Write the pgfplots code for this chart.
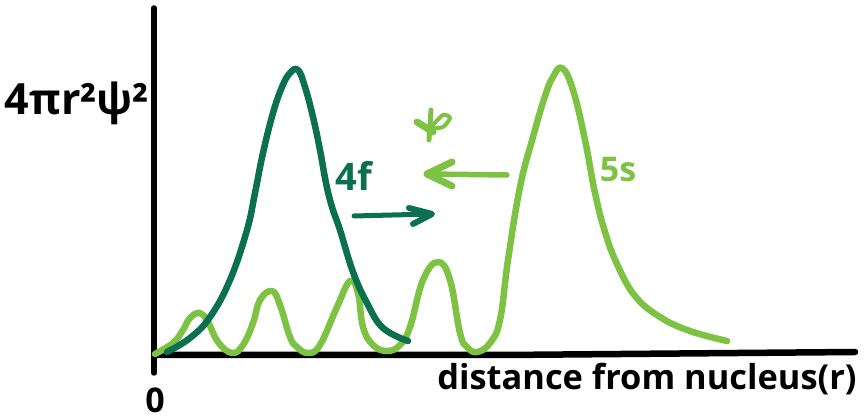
\documentclass[border=0pt]{standalone}
\usepackage{fontspec}
\setmainfont{Open Sans}
\usepackage{pgfplots}
\pgfplotsset{compat=1.18}
\definecolor{dark}{HTML}{0B7050}
\definecolor{light}{HTML}{7DC242}
\begin{document}
\begin{tikzpicture}[x=1pt,y=1pt]
\path[use as bounding box] (0,0) rectangle (864,419);
\begin{axis}[
  at={(0,0)}, anchor=south west,
  scale only axis, width=864pt, height=419pt,
  xmin=-155, xmax=709, ymin=-65, ymax=354,
  hide axis, clip=false,
  every axis plot/.append style={no markers, line cap=round, line join=round},
]
% axes
\addplot[black, line width=5.5pt] coordinates {(-1,346) (-1,-19)};
\addplot[black, line width=6.5pt] coordinates {(0,-1) (350,-1) (700,2)};
% 5s
\addplot[light, line width=6.5pt, smooth, tension=0.7] coordinates {
(0,0)(18,11)(28,24)(35,36)(45,41)(53,32)(63,12)(77,1)(88,9)(98,31)(105,54)(117,63)(125,49)(135,17)(142,7)(153,1)(165,9)(182,47)(195,73)(203,61)(208,27)(218,9)(232,3)(245,9)(255,27)(268,74)(283,92)(295,74)(305,21)(312,7)(322,2)(335,11)(345,34)(353,94)(365,167)(378,217)(390,258)(398,277)(407,286)(418,264)(430,214)(440,161)(450,122)(462,90)(480,58)(505,37)(535,23)(572,13)};
% 4f
\addplot[dark, line width=6.5pt, smooth, tension=0.7] coordinates {
(12,2)(35,16)(55,37)(75,74)(92,124)(100,161)(108,201)(118,241)(127,267)(135,281)(143,284)(150,267)(158,237)(165,204)(171,171)(177,147)(185,124)(198,82)(212,51)(228,26)(253,13)};
% arrows
\addplot[dark, line width=5pt] coordinates {(199,138) (276,140)};
\addplot[dark, line width=6pt] coordinates {(254,146) (277,140) (258,130)};
\addplot[light, line width=5.5pt] coordinates {(352,179) (272,180)};
\addplot[light, line width=7pt] coordinates {(297,192) (272,180) (297,168)};
% star
\addplot[light, line width=5pt] coordinates {(276,244) (274,214)};
\addplot[light, line width=7pt] coordinates {(262,232) (278,222)};
\addplot[light, line width=4pt, smooth] coordinates {(278,229) (288,239) (295,236) (288,227) (278,226)};
% text
\node[anchor=center, font=\fontsize{43}{43}\selectfont\bfseries, inner sep=0pt] at (axis cs:-78,251) {4πr²ψ²};
\node[anchor=center, font=\fontsize{34}{34}\selectfont\bfseries, text=black, inner sep=0pt] at (axis cs:0,-46) {0};
\node[anchor=center, font=\fontsize{38}{38}\selectfont\bfseries, text=dark, inner sep=0pt] at (axis cs:199,178) {4f};
\node[anchor=center, font=\fontsize{34}{34}\selectfont\bfseries, text=light, inner sep=0pt] at (axis cs:463,184) {5s};
\node[anchor=center, font=\fontsize{34.4}{34.4}\selectfont\bfseries, inner sep=0pt] at (axis cs:492,-25) {distance from nucleus(r)};
\end{axis}
\end{tikzpicture}
\end{document}
